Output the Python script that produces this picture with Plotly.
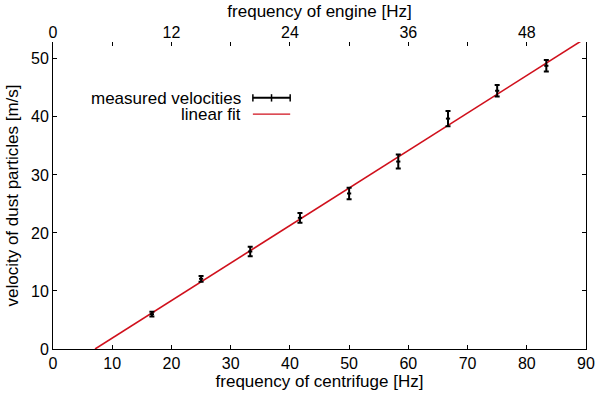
import plotly.graph_objects as go

# measured points (frequency of centrifuge in Hz, velocity in m/s)
freq_centrifuge = [16.7, 25.0, 33.3, 41.7, 50.0, 58.3, 66.7, 75.0, 83.3]
velocity = [6.0, 12.1, 16.8, 22.6, 26.8, 32.3, 39.7, 44.5, 48.8]
velocity_err = [0.4, 0.5, 0.8, 0.85, 1.0, 1.2, 1.3, 1.0, 1.0]

# linear fit end points
fit_x = [7.1, 90.0]
fit_y = [0.0, 53.6]

bottom_ticks = [0, 10, 20, 30, 40, 50, 60, 70, 80, 90]
engine_ticks = [0, 12, 24, 36, 48]
y_ticks = [0, 10, 20, 30, 40, 50]

FONT = "Liberation Sans, Arial, sans-serif"
RED = "#d0101c"

fig = go.Figure()

fig.add_trace(go.Scatter(
    x=fit_x, y=fit_y, mode="lines",
    line=dict(color=RED, width=1.6),
    showlegend=False, hoverinfo="skip",
))
fig.add_trace(go.Scatter(
    x=freq_centrifuge, y=velocity, mode="markers",
    marker=dict(color="black", size=3, symbol="line-ew",
                line=dict(color="black", width=2)),
    error_y=dict(type="data", array=velocity_err, color="black",
                 thickness=2, width=2.5),
    showlegend=False,
))

# xaxis3 only carries the mirrored ticks on top (no line, no labels)
fig.add_trace(go.Scatter(x=[None], y=[None], xaxis="x3", showlegend=False))
fig.add_trace(go.Scatter(x=[None], y=[None], xaxis="x2", showlegend=False))

tick_font = dict(family=FONT, size=16, color="black")
title_font = dict(family=FONT, size=17, color="black")

fig.update_layout(
    width=600, height=397,
    margin=dict(l=53, r=14, t=42, b=48),
    paper_bgcolor="white", plot_bgcolor="white",
    font=tick_font,
    showlegend=False,
    xaxis=dict(
        range=[0, 90], tickvals=bottom_ticks, automargin=False,
        ticks="inside", ticklen=4, tickcolor="black",
        showline=True, linecolor="black", linewidth=1, mirror=False,
        showgrid=False, zeroline=False,
        title=dict(text="frequency of centrifuge [Hz]", standoff=3, font=title_font),
        tickfont=tick_font,
    ),
    xaxis2=dict(
        range=[0, 54], tickvals=engine_ticks, automargin=False,
        overlaying="x", side="top", anchor="y",
        ticks="", showline=False, showgrid=False, zeroline=False,
        title=dict(text="frequency of engine [Hz]", standoff=1, font=title_font),
        tickfont=tick_font,
    ),
    xaxis3=dict(
        range=[0, 90], tickvals=bottom_ticks, automargin=False,
        overlaying="x", side="top", anchor="y",
        ticks="inside", ticklen=4, tickcolor="black",
        showticklabels=False, showline=False, showgrid=False, zeroline=False,
    ),
    yaxis=dict(
        range=[0, 52.9], tickvals=y_ticks, automargin=False,
        ticks="inside", ticklen=4, tickcolor="black",
        showline=True, linecolor="black", linewidth=1, mirror="ticks",
        showgrid=False, zeroline=False,
        title=dict(text="velocity of dust particles [m/s]", standoff=8, font=title_font),
        tickfont=tick_font,
    ),
)

# gnuplot style key: text on the left, sample on the right
legend_rows = [("measured velocities", 0.818), ("linear fit", 0.765)]
for label, ypos in legend_rows:
    fig.add_annotation(
        x=0.355, y=ypos, xref="paper", yref="paper",
        text=label, showarrow=False, xanchor="right", yanchor="middle",
        height=14, borderpad=0,
        font=dict(family=FONT, size=17, color="black"),
    )

ky = legend_rows[0][1]
fig.add_shape(type="line", xref="paper", yref="paper",
              x0=0.375, x1=0.445, y0=ky, y1=ky,
              line=dict(color="black", width=2))
for xc in (0.375, 0.41, 0.445):
    fig.add_shape(type="line", xref="paper", yref="paper",
                  x0=xc, x1=xc, y0=ky - 0.012, y1=ky + 0.012,
                  line=dict(color="black", width=1.5))
ly = legend_rows[1][1]
fig.add_shape(type="line", xref="paper", yref="paper",
              x0=0.375, x1=0.445, y0=ly, y1=ly,
              line=dict(color=RED, width=1.2))

# drop the default 8px body margin so the figure fills the window
fig.write_html("out.html", config={"displayModeBar": False},
               post_script="document.body.style.margin='0';")
